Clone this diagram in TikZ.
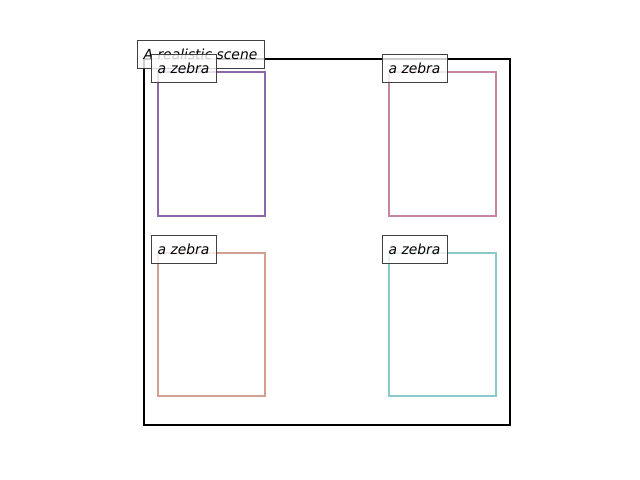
\documentclass[tikz,border=0pt]{standalone}
\usepackage{fontspec}
\setmainfont{DejaVu Sans}
\definecolor{cpurple}{RGB}{142,104,168}
\definecolor{cpink}{RGB}{196,134,164}
\definecolor{csalmon}{RGB}{212,158,144}
\definecolor{cteal}{RGB}{140,201,202}
\definecolor{cedge}{RGB}{64,64,64}
\tikzset{
  scenebox/.style={draw=black, line width=1.5pt},
  zebrabox/.style={line width=1.5pt},
  lbl/.style={draw=cedge, line width=0.7pt, fill=white, fill opacity=0.8, text opacity=1,
    inner sep=0pt, minimum height=28*0.72pt, font=\fontsize{10}{12}\selectfont\itshape, anchor=center},
}
\begin{document}
\begin{tikzpicture}[x=0.72pt, y=-0.72pt]
\useasboundingbox (0,0) rectangle (640,480);
\draw[scenebox] (144,59) rectangle (510,425);
\draw[zebrabox, draw=cpurple] (158,72) rectangle (265,216);
\draw[zebrabox, draw=cpink] (389,72) rectangle (496,216);
\draw[zebrabox, draw=csalmon] (158,253) rectangle (265,396);
\draw[zebrabox, draw=cteal] (389,253) rectangle (496,396);
\node[lbl, minimum width=127*0.72pt] (scene) at (200.5,54) {A realistic scene};
\node[lbl, minimum width=65*0.72pt] (z1) at (183.5,68) {a zebra};
\node[lbl, minimum width=65*0.72pt] (z2) at (414.5,68) {a zebra};
\node[lbl, minimum width=65*0.72pt] (z3) at (183.5,249) {a zebra};
\node[lbl, minimum width=65*0.72pt] (z4) at (414.5,249) {a zebra};
\end{tikzpicture}
\end{document}
